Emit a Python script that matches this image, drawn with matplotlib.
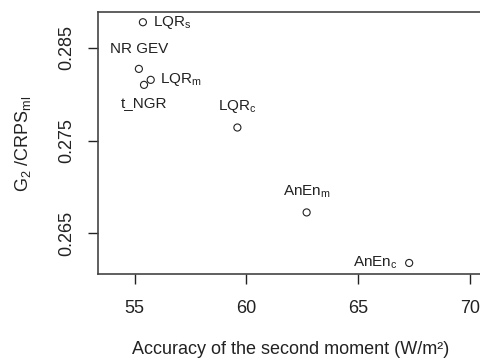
import numpy as np
import matplotlib.pyplot as plt

plt.rcParams['font.family'] = ['Liberation Sans', 'DejaVu Sans']

# values
methods = ['LQR$_{\\mathregular{s}}$', 'NR GEV', 'LQR$_{\\mathregular{m}}$', 't_NGR',
           'LQR$_{\\mathregular{c}}$', 'AnEn$_{\\mathregular{m}}$', 'AnEn$_{\\mathregular{c}}$']
accuracy = [55.37, 55.19, 55.72, 55.42, 59.60, 62.70, 67.29]
ratio = [0.28773, 0.28271, 0.28153, 0.28099, 0.27640, 0.26726, 0.26182]
# R-style text positions: 1 below, 2 left, 3 above, 4 right
label_pos = [4, 3, 4, 1, 3, 3, 2]

xticks = [55, 60, 65, 70]
yticks = [0.265, 0.275, 0.285]

ink = '#222222'
W, H = 481, 361
fig = plt.figure(figsize=(W/100, H/100), dpi=100)
ax = fig.add_axes([98/W, 1 - 274.3/H, (484 - 98)/W, (274.3 - 12.3)/H])

ax.scatter(accuracy, ratio, s=26, facecolors='none', edgecolors=ink, linewidths=0.8,
           zorder=3)

offs = {1: (0, -8, 'center', 'top'), 2: (-8, 0, 'right', 'center'),
        3: (0, 9, 'center', 'bottom'), 4: (7, 0, 'left', 'center')}
for name, x, y, p in zip(methods, accuracy, ratio, label_pos):
    dx, dy, ha, va = offs[p]
    ax.annotate(name, (x, y), xytext=(dx, dy), textcoords='offset points',
                ha=ha, va=va, fontsize=11, color=ink)

ax.set_xlim(53.36, 70.64)
ax.set_ylim(0.2606, 0.2888)
ax.set_xticks(xticks)
ax.set_xticklabels([str(t) for t in xticks])
ax.set_yticks(yticks)
ax.set_yticklabels([f'{t:.3f}' for t in yticks], rotation=90, va='center')
ax.tick_params(length=7.5, width=1, colors=ink, labelsize=13)
ax.tick_params(axis='x', pad=11)
ax.tick_params(axis='y', pad=9)
for s in ax.spines.values():
    s.set_color('#444444')
    s.set_linewidth(1.2)

ax.set_xlabel('Accuracy of the second moment (W/m\u00b2)', fontsize=13, color=ink,
              labelpad=17)
ax.set_ylabel('G$_{\\mathregular{2}}$ /CRPS$_{\\mathregular{ml}}$', fontsize=13,
              color=ink, labelpad=18)

fig.savefig('out.png', dpi=100)
